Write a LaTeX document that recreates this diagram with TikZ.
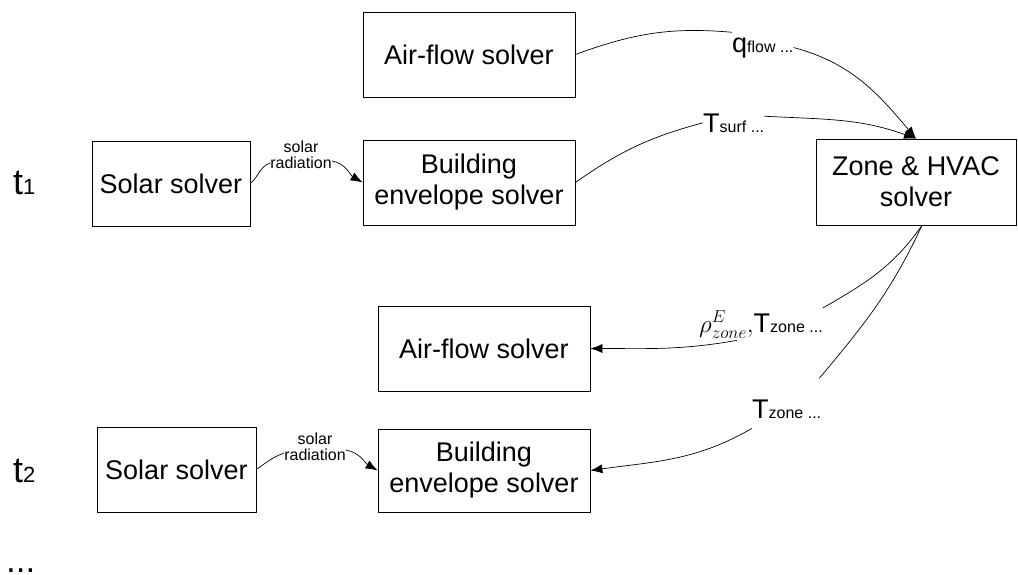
\documentclass[tikz,border=0pt]{standalone}
\usepackage{fontspec}
\setmainfont{Liberation Sans}
\usetikzlibrary{arrows.meta}
\tikzstyle{solver}=[draw,line width=0.7pt,minimum height=85pt,align=center,inner sep=2pt,font=\fontsize{27}{31}\selectfont]
\tikzstyle{lab}=[inner sep=0pt,anchor=base west,font=\fontsize{27}{31}\selectfont]
\tikzstyle{radlab}=[inner sep=0pt,align=center,font=\fontsize{16}{16}\selectfont]
\tikzstyle{link}=[line width=0.7pt]
\tikzstyle{feed}=[line width=0.7pt,-{Latex[length=12pt,width=9pt]}]
\newcommand{\sm}[1]{{\fontsize{16}{18}\selectfont #1}}

\begin{document}
\begin{tikzpicture}[x=1pt,y=1pt]
    \useasboundingbox (0,0) rectangle (1018,-574);
    % time steps
    \node[lab,font=\fontsize{36}{40}\selectfont] (t1) at (13,-194) {t{\fontsize{22}{24}\selectfont 1}};
    \node[lab,font=\fontsize{36}{40}\selectfont] (t2) at (13,-482) {t{\fontsize{22}{24}\selectfont 2}};
    \node[lab,font=\fontsize{35}{40}\selectfont] (dots) at (6,-572) {...};
    % solvers
    \node[solver,minimum width=212pt] (air1) at (469,-54.5) {Air-flow solver};
    \node[solver,minimum width=212pt] (benv1) at (469,-182.5) {Building\\envelope solver};
    \node[solver,minimum width=158pt] (solar1) at (171,-183.5) {Solar solver};
    \node[solver,minimum width=200pt,minimum height=86pt] (zone) at (916,-182) {Zone \& HVAC\\solver};
    \node[solver,minimum width=212pt] (air2) at (484,-348.5) {Air-flow solver};
    \node[solver,minimum width=212pt,minimum height=83pt] (benv2) at (484,-470.5) {Building\\envelope solver};
    \node[solver,minimum width=159pt] (solar2) at (176.5,-469.5) {Solar solver};
    % exchanged quantities
    \node[lab] (qflow) at (732,-52) {q\sm{flow ...}};
    \node[lab] (tsurf) at (703,-132) {T\sm{surf ...}};
    \node[lab] (rho) at (699,-332) {$\rho^{E}_{zone},$T\sm{zone ...}};
    \node[lab] (tzone) at (752,-418) {T\sm{zone ...}};
    \node[radlab] (rad1) at (301,-155) {solar\\radiation};
    \node[radlab] (rad2) at (315,-447) {solar\\radiation};
    % t1
    \draw[link] (solar1.east) to[out=40,in=200] ([yshift=-8pt]rad1.west);
    \draw[feed] ([yshift=-6pt]rad1.east) to[out=-10,in=150] (benv1.west);
    \draw[link] (air1.east) to[out=20,in=175] ([yshift=5pt]qflow.north west);
    \draw[feed] (qflow.east) to[out=-15,in=130] (zone.north);
    \draw[link] (benv1.east) to[out=35,in=195] (tsurf.west);
    \draw[feed] ([yshift=-3pt]tsurf.north east) to[out=-3,in=160] (zone.north);
    % t2
    \draw[link] ([xshift=6pt]zone.south) to[out=-125,in=30] ([yshift=3pt]rho.north east);
    \draw[feed] ([xshift=38pt,yshift=-2pt]rho.south west) to[out=190,in=0] (air2.east);
    \draw[link] ([xshift=6pt]zone.south) to[out=-115,in=50] ([xshift=-2pt,yshift=21pt]tzone.north east);
    \draw[feed] ([yshift=-10pt]tzone.south west) to[out=210,in=8] (benv2.east);
    \draw[link] (solar2.east) to[out=35,in=200] ([yshift=-6pt]rad2.west);
    \draw[feed] ([yshift=-3pt]rad2.east) to[out=-10,in=150] (benv2.west);
\end{tikzpicture}
\end{document}
